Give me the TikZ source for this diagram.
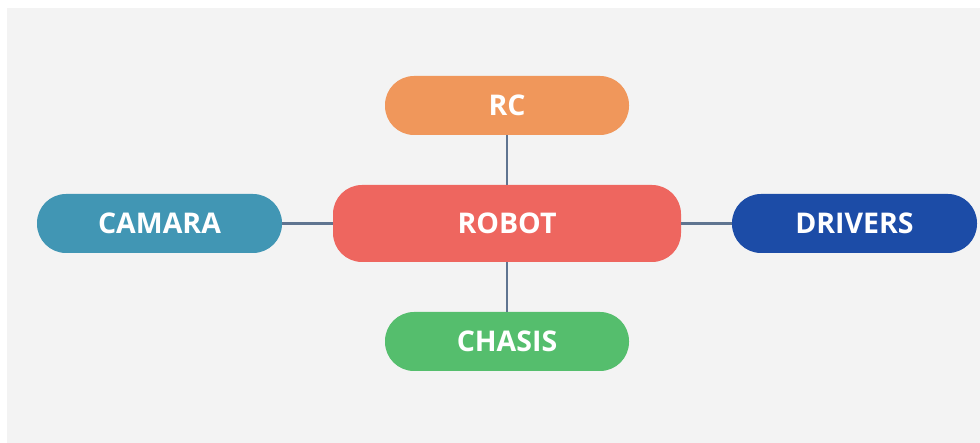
\documentclass[tikz,border=0pt]{standalone}
\usepackage{fontspec}
\setmainfont{Open Sans}
\definecolor{bggray}{HTML}{F3F3F3}
\definecolor{linkgray}{HTML}{5F7490}
\definecolor{rcorange}{HTML}{F0975B}
\definecolor{robotred}{HTML}{EE665F}
\definecolor{camblue}{HTML}{4196B4}
\definecolor{drvblue}{HTML}{1C4CA7}
\definecolor{chsgreen}{HTML}{55BE6D}

\begin{document}
\begin{tikzpicture}[x=1pt,y=-1pt,
  pill/.style={rounded corners=29pt, text=white, font=\fontsize{28.5}{34}\selectfont\bfseries,
    minimum width=244pt, minimum height=59pt, inner sep=0pt, text height=20.3pt, text depth=0pt},
  link/.style={draw=linkgray, line width=2.4pt}]
\useasboundingbox (0,0) rectangle (980,443);
\fill[bggray] (7,8) rectangle (980,443);
\node[pill, fill=robotred, minimum width=348pt, minimum height=77pt] (robot) at (507,223.5) {ROBOT};
\node[pill, fill=rcorange] (rc) at (507,105.5) {RC};
\node[pill, fill=camblue, minimum width=245pt] (camara) at (159.5,223.5) {CAMARA};
\node[pill, fill=drvblue, minimum width=245pt] (drivers) at (854.5,223.5) {DRIVERS};
\node[pill, fill=chsgreen] (chasis) at (507,341.5) {CHASIS};
\draw[link] (robot) -- (rc);
\draw[link] (robot) -- (chasis);
\draw[link] (robot) -- (camara);
\draw[link] (robot) -- (drivers);
\end{tikzpicture}
\end{document}
